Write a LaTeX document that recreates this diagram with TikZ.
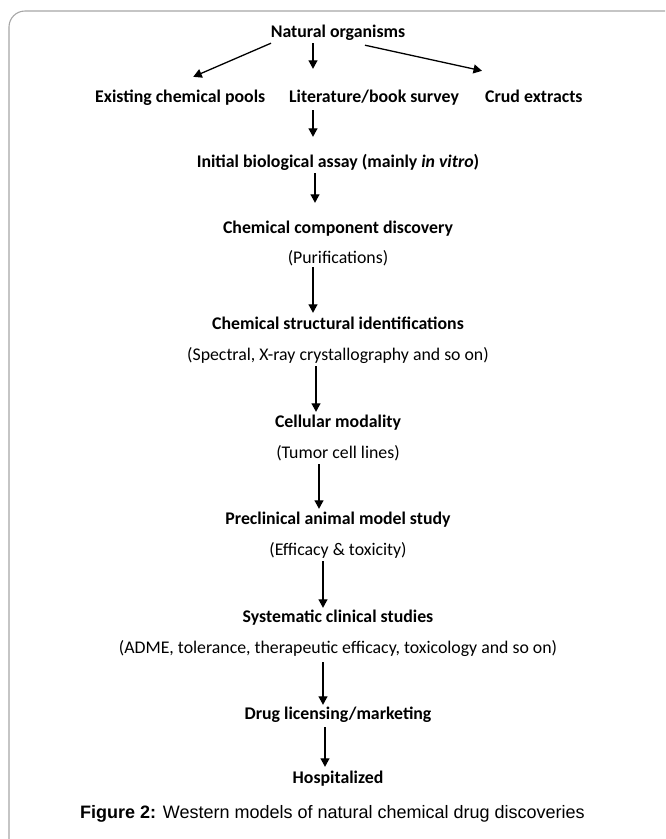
\documentclass[tikz,border=0pt]{standalone}
\usepackage{fontspec}
\setmainfont{Carlito}
\newfontfamily\capfont{Liberation Sans}
\usetikzlibrary{arrows.meta, positioning}
\tikzset{
  step title/.style={font=\fontsize{17.8}{21}\selectfont\bfseries, anchor=base, inner sep=0pt, text height=12pt, text depth=4pt},
  step note/.style={font=\fontsize{17.8}{21}\selectfont, anchor=base, inner sep=0pt, text height=12pt, text depth=4pt},
  flow/.style={-{Triangle[length=8.5pt,width=9pt]}, line width=1.3pt},
  frame/.style={draw=black!35, line width=1.1pt, rounded corners=16pt}
}

\begin{document}
\begin{tikzpicture}[x=1pt, y=-1pt]
\useasboundingbox (0,0) rectangle (665,839);
\begin{scope}
\clip (0,0) rectangle (665,839);
\draw[frame] (9,11) rectangle (690,860);
\end{scope}

% source and first branches
\node[step title] (nat) at (338,37) {Natural organisms};
\node[step title, anchor=base west] (exist) at (95,102) {Existing chemical pools};
\node[step title, anchor=base west] (lit) at (289,102) {Literature/book survey};
\node[step title, anchor=base west] (crud) at (485,102) {Crud extracts};

% main chain
\node[step title] (init) at (338,167) {Initial biological assay (mainly \textit{in vitro})};
\node[step title] (comp) at (338,233) {Chemical component discovery};
\node[step note] (purif) at (338,263) {(Purifications)};
\node[step title] (struct) at (338,329) {Chemical structural identifications};
\node[step note] (spectral) at (338,360) {(Spectral, X-ray crystallography and so on)};
\node[step title] (cell) at (338,427) {Cellular modality};
\node[step note] (tumor) at (338,458) {(Tumor cell lines)};
\node[step title] (precl) at (338,524) {Preclinical animal model study};
\node[step note] (effic) at (338,555) {(Efficacy \& toxicity)};
\node[step title] (syst) at (338,622) {Systematic clinical studies};
\node[step note] (adme) at (338,653) {(ADME, tolerance, therapeutic efficacy, toxicology and so on)};
\node[step title] (drug) at (338,719) {Drug licensing/marketing};
\node[step title] (hosp) at (338,783) {Hospitalized};

\node[anchor=base west, inner sep=0pt, font=\capfont\fontsize{18}{21}\selectfont] (caption) at (80,818) {\textbf{Figure 2:} Western models of natural chemical drug discoveries};

\draw[flow] ([shift={(-67,2)}]nat.south) -- ([shift={(13,-13)}]exist.north);
\draw[flow, shorten <=2pt, shorten >=21pt] (nat.south -| 313,0) -- (lit.north -| 313,0);
\draw[flow] ([shift={(27,4)}]nat.south) -- ([shift={(-3,-19)}]crud.north west);

\draw[flow, shorten <=4pt, shorten >=18pt] (lit.south -| 313,0) -- (init.north -| 313,0);
\draw[flow, shorten <=2pt, shorten >=18pt] (init.south -| 315,0) -- (comp.north -| 315,0);
\draw[flow, shorten <=0pt, shorten >=4pt] (purif.south -| 313,0) -- (struct.north -| 313,0);
\draw[flow, shorten <=2pt, shorten >=3pt] (spectral.south -| 316,0) -- (cell.north -| 316,0);
\draw[flow, shorten <=2pt, shorten >=3pt] (tumor.south -| 319,0) -- (precl.north -| 319,0);
\draw[flow, shorten <=2pt, shorten >=2pt] (effic.south -| 323,0) -- (syst.north -| 323,0);
\draw[flow, shorten <=5pt, shorten >=2pt] (adme.south -| 323,0) -- (drug.north -| 323,0);
\draw[flow, shorten <=4pt, shorten >=4pt] (drug.south -| 325,0) -- (hosp.north -| 325,0);
\end{tikzpicture}
\end{document}
